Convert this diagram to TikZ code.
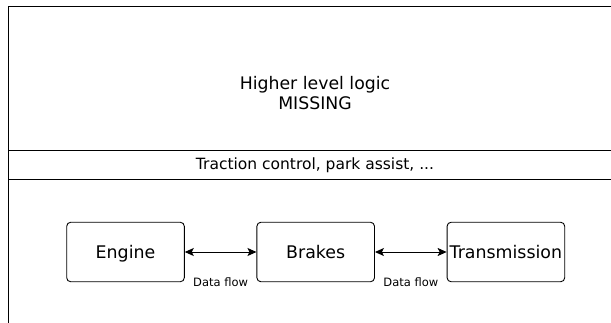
\documentclass[tikz,border=0pt]{standalone}
\usepackage{fontspec}
\setmainfont{DejaVu Sans}
\usetikzlibrary{arrows.meta}
\usetikzlibrary{positioning}

\tikzset{
    layer/.style={draw, line width=1pt},
    unit/.style={draw, rounded corners=4pt, line width=0.9pt,
        minimum width=117.6pt, minimum height=59.5pt, inner sep=0pt,
        text height=13pt, text depth=0pt,
        font=\fontsize{17.4}{20.8}\selectfont},
    flow/.style={{Stealth[length=9pt,width=8pt,inset=2pt]}-{Stealth[length=9pt,width=8pt,inset=2pt]}, line width=1pt},
    flowlabel/.style={font=\fontsize{11.5}{14}\selectfont},
}

\begin{document}
\begin{tikzpicture}[x=1pt,y=-1pt]
                \useasboundingbox (0,0) rectangle (611,322);
                \clip (0,0) rectangle (611,322);

                \coordinate (O1) at (8.6,6);
                \coordinate (X1) at (621.4,150);
                \coordinate (O2) at (8.6,150);
                \coordinate (X2) at (621.4,179);
                \coordinate (O3) at (8.6,179);
                \coordinate (X3) at (621.4,340);

                \draw[layer] (O1) rectangle (X1);
                \draw[layer] (O2) rectangle (X2);
                \draw[layer] (O3) rectangle (X3);

                \node[align=center, font=\fontsize{17.3}{20}\selectfont] (logic) at (315,93) {Higher level logic\\MISSING};
                \node[font=\fontsize{15.5}{18}\selectfont] (traction) at (315,165) {Traction control, park assist, ...};

                \node[unit] (engine) at (125.5,252) {Engine};
                \node[unit, right=71.7pt of engine] (brakes) {Brakes};
                \node[unit, right=71.7pt of brakes] (transmission) {Transmission};

                \draw[flow] (engine) -- node[flowlabel, below=22pt] (flowa) {Data flow} (brakes);
                \draw[flow] (brakes) -- node[flowlabel, below=22pt] (flowb) {Data flow} (transmission);
\end{tikzpicture}
\end{document}
